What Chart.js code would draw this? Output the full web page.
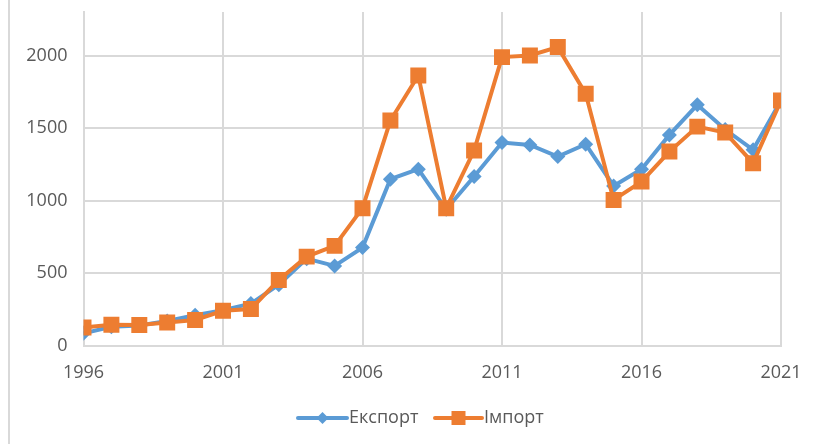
<!DOCTYPE html>
<html>
<head>
<meta charset="utf-8">
<script src="https://cdn.jsdelivr.net/npm/chart.js@4"></script>
<style>
html,body{margin:0;padding:0;background:#fff;}
#wrap{width:814px;height:444px;position:relative;}
</style>
</head>
<body>
<div id="wrap"><canvas id="c" width="814" height="444"></canvas></div>
<script>
const years = [1996,1997,1998,1999,2000,2001,2002,2003,2004,2005,2006,2007,2008,2009,2010,2011,2012,2013,2014,2015,2016,2017,2018,2019,2020,2021];
const exportValues = [85,130,140,170,210,245,290,420,600,550,676,1148,1217,940,1166,1400,1384,1304,1389,1101,1216,1453,1660,1490,1350,1690];
const importValues = [125,145,143,160,177,241,253,453,614,688,948,1552,1862,948,1345,1989,2000,2058,1736,1005,1131,1338,1510,1469,1258,1690];
const yTicks = [0,500,1000,1500,2000];
const seriesNames = ['Експорт','Імпорт'];

const BLUE = '#5B9BD5', ORANGE = '#ED7D31', TEXT = '#595959', GRID = '#d9d9d9';
const FONT = "'Open Sans', 'Liberation Sans', sans-serif";

const framePlugin = {
  id: 'frame',
  beforeDraw(chart) {
    const ctx = chart.ctx;
    ctx.save();
    ctx.strokeStyle = GRID;
    ctx.lineWidth = 2;
    ctx.beginPath();
    ctx.moveTo(9, 0);
    ctx.lineTo(9, 444);
    ctx.stroke();
    ctx.restore();
  }
};

const legendPlugin = {
  id: 'customLegend',
  afterDraw(chart) {
    const ctx = chart.ctx;
    const y = 418;
    const items = [
      {name: seriesNames[0], color: BLUE, style: 'diamond', x0: 298, x1: 347},
      {name: seriesNames[1], color: ORANGE, style: 'square', x0: 435, x1: 482}
    ];
    ctx.save();
    items.forEach(it => {
      ctx.strokeStyle = it.color;
      ctx.lineWidth = 4;
      ctx.lineCap = 'round';
      ctx.beginPath();
      ctx.moveTo(it.x0, y);
      ctx.lineTo(it.x1, y);
      ctx.stroke();
      const cx = (it.x0 + it.x1) / 2;
      ctx.fillStyle = it.color;
      ctx.beginPath();
      if (it.style === 'diamond') {
        ctx.moveTo(cx, y - 6); ctx.lineTo(cx + 6, y); ctx.lineTo(cx, y + 6); ctx.lineTo(cx - 6, y);
        ctx.closePath();
      } else {
        ctx.rect(cx - 7, y - 7, 14, 14);
      }
      ctx.fill();
      ctx.fillStyle = TEXT;
      ctx.font = '18px ' + FONT;
      ctx.textBaseline = 'middle';
      ctx.textAlign = 'left';
      ctx.fillText(it.name, it.x1 + 2, y);
    });
    ctx.restore();
  }
};

new Chart(document.getElementById('c'), {
  type: 'line',
  data: {
    labels: years,
    datasets: [
      {
        label: seriesNames[0],
        data: exportValues,
        borderColor: BLUE,
        backgroundColor: BLUE,
        borderWidth: 4,
        pointStyle: 'rectRot',
        pointRadius: 7.5,
        pointBorderWidth: 0,
        pointBackgroundColor: BLUE,
        tension: 0,
        order: 2
      },
      {
        label: seriesNames[1],
        data: importValues,
        borderColor: ORANGE,
        backgroundColor: ORANGE,
        borderWidth: 4,
        pointStyle: 'rect',
        pointRadius: 11.3,
        pointBorderWidth: 0,
        pointBackgroundColor: ORANGE,
        tension: 0,
        order: 1
      }
    ]
  },
  options: {
    responsive: false,
    animation: false,
    devicePixelRatio: 1,
    layout: { padding: { left: 0, right: 33, top: 12, bottom: 60 } },
    plugins: { legend: { display: false }, tooltip: { enabled: false } },
    scales: {
      x: {
        type: 'linear',
        min: 1996,
        max: 2021,
        afterFit(scale) { scale.height = 38.3; scale.paddingLeft = 0; scale.paddingRight = 0; },
        ticks: {
          stepSize: 5,
          color: TEXT,
          font: { family: FONT, size: 18 },
          padding: 16,
          maxRotation: 0,
          callback: v => String(v)
        },
        grid: { color: GRID, lineWidth: 2, drawTicks: false },
        border: { color: GRID, width: 2 }
      },
      y: {
        min: 0,
        max: 2300,
        afterFit(scale) { scale.width = 83.5; scale.paddingTop = 0; scale.paddingBottom = 0; },
        afterBuildTicks(scale) { scale.ticks = yTicks.map(v => ({ value: v })); },
        ticks: {
          color: TEXT,
          font: { family: FONT, size: 18 },
          padding: 16,
          callback: v => String(v)
        },
        grid: { color: GRID, lineWidth: 2, drawTicks: false },
        border: { color: GRID, width: 2 }
      }
    }
  },
  plugins: [framePlugin, legendPlugin]
});
</script>
</body>
</html>
